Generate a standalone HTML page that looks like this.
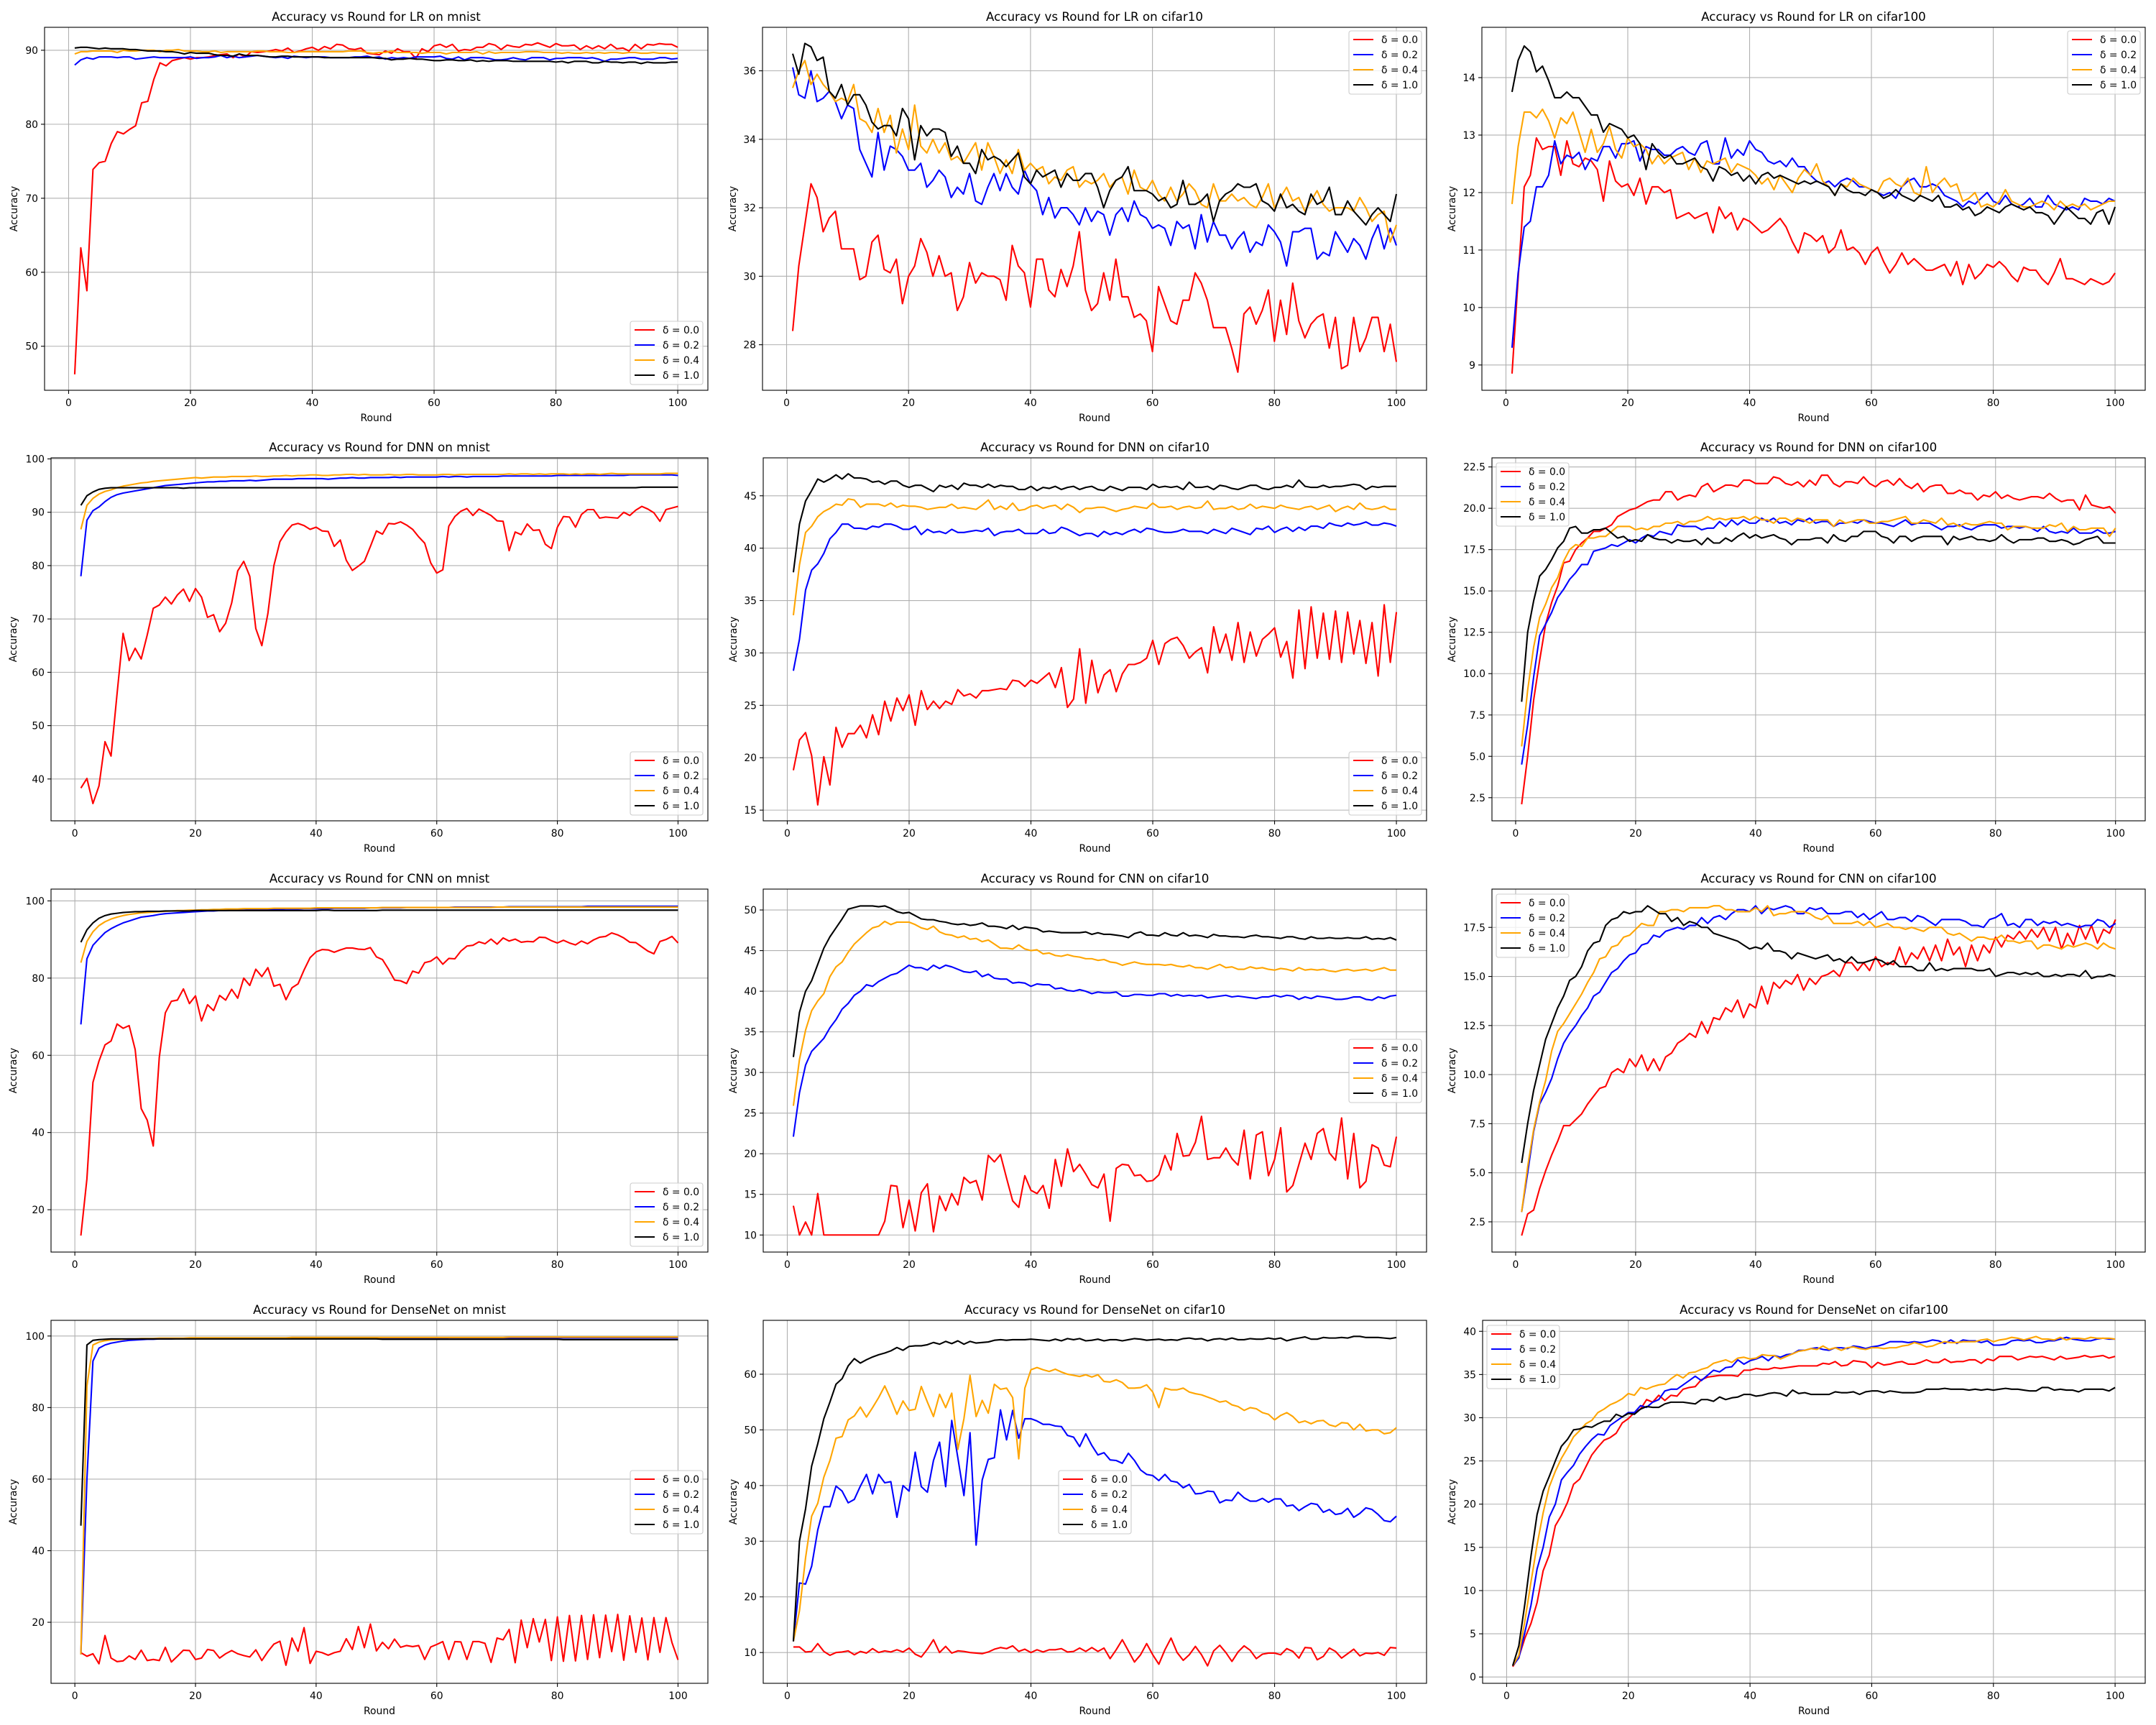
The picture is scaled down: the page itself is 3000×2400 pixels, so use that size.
<!DOCTYPE html>
<html><head><meta charset="utf-8">
<style>
html,body{margin:0;padding:0;background:#fff;}
svg{display:block;font-family:"DejaVu Sans","Liberation Sans",sans-serif;}
</style></head>
<body>
<svg id="fig" width="3000" height="2400" viewBox="0 0 3000 2400" xmlns="http://www.w3.org/2000/svg">
<rect width="3000" height="2400" fill="#fff"/>
</svg>
<script>
// ---------- data (accuracy per round, rounds 1..100) ----------
const xTicks=[0,20,40,60,80,100];
const seriesLabels=["δ = 0.0","δ = 0.2","δ = 0.4","δ = 1.0"];
const seriesColors=["#ff0000","#0000ff","#ffa500","#000000"];

const lrMnist00=[46.2,63.3,57.5,73.9,74.8,75.0,77.4,79.0,78.7,79.3,79.8,82.9,83.1,86.1,88.3,87.9,88.6,88.8,89.0,88.8,89.0,89.0,89.1,89.3,89.4,89.5,89.0,89.5,89.1,89.8,89.7,89.8,89.9,90.1,89.9,90.3,89.7,89.9,90.2,90.4,90.0,90.5,90.2,90.8,90.7,90.2,90.1,90.3,89.6,89.5,89.4,89.9,89.6,90.2,89.8,89.8,88.9,90.2,89.8,90.6,90.8,90.4,90.8,89.9,90.1,90.0,90.4,90.4,90.9,90.7,90.1,90.7,90.5,90.4,90.8,90.7,91.0,90.7,90.4,90.9,90.6,90.6,90.7,90.1,90.6,90.2,90.6,90.2,90.8,90.2,90.3,89.9,90.8,90.2,90.8,90.7,90.9,90.8,90.8,90.4];
const lrMnist02=[88.0,88.7,89.0,88.8,89.1,89.1,89.1,89.0,89.1,89.1,88.8,88.9,89.0,89.1,89.0,89.0,89.0,89.0,89.0,89.1,88.9,89.0,89.0,89.1,89.3,89.0,89.2,89.0,89.1,89.2,89.3,89.2,89.1,89.0,89.1,88.9,89.2,89.1,89.0,89.1,89.1,89.1,89.0,89.0,89.0,89.0,89.1,89.1,89.2,89.0,89.1,88.8,89.0,88.9,89.0,88.9,89.1,89.1,89.1,89.1,89.2,88.9,88.8,89.1,88.7,89.0,89.0,89.0,88.9,88.7,88.7,88.8,89.0,88.8,88.7,89.0,89.0,89.0,88.7,88.9,88.9,89.0,89.0,89.0,88.9,89.0,88.8,88.5,88.8,88.8,88.9,89.0,89.0,88.8,88.8,88.8,89.0,89.0,88.8,88.9];
const lrMnist04=[89.5,89.8,89.8,89.9,89.9,89.9,89.9,89.7,90.0,89.9,89.9,90.0,90.0,90.0,89.8,90.0,90.0,90.1,89.9,89.9,89.9,89.8,89.8,89.9,89.7,89.8,89.8,89.8,89.8,89.8,89.9,89.9,89.8,89.8,89.8,89.7,89.7,89.8,89.8,89.8,89.8,89.8,89.8,89.8,89.8,89.9,89.9,89.9,89.7,89.6,89.7,89.7,89.9,89.7,89.7,89.7,89.7,89.6,89.7,89.7,89.7,89.5,89.7,89.7,89.7,89.7,89.8,89.5,89.8,89.6,89.7,89.7,89.7,89.7,89.8,89.8,89.8,89.7,89.7,89.7,89.6,89.7,89.6,89.6,89.7,89.6,89.7,89.6,89.7,89.7,89.6,89.7,89.7,89.6,89.6,89.7,89.6,89.6,89.6,89.6];
const lrMnist10=[90.3,90.4,90.4,90.3,90.2,90.3,90.2,90.2,90.2,90.1,90.1,90.0,89.9,89.9,89.9,89.8,89.8,89.7,89.5,89.7,89.6,89.6,89.6,89.4,89.3,89.3,89.2,89.5,89.3,89.3,89.3,89.2,89.1,89.1,89.2,89.2,89.1,89.1,89.1,89.1,89.1,89.0,89.0,89.0,89.0,89.0,89.0,89.0,89.0,89.0,88.9,88.9,88.7,88.8,88.8,88.9,88.8,88.8,88.7,88.6,88.6,88.7,88.7,88.6,88.6,88.7,88.5,88.6,88.5,88.6,88.6,88.6,88.5,88.5,88.5,88.5,88.5,88.5,88.5,88.4,88.5,88.3,88.5,88.5,88.5,88.3,88.3,88.5,88.4,88.4,88.3,88.4,88.4,88.2,88.4,88.3,88.3,88.3,88.4,88.4];
const lrMnistYTicks=[50,60,70,80,90];

const lrCifar10_00=[28.4,30.3,31.5,32.7,32.3,31.3,31.7,31.9,30.8,30.8,30.8,29.9,30.0,31.0,31.2,30.2,30.1,30.5,29.2,30.0,30.3,31.1,30.7,30.0,30.6,30.0,30.1,29.0,29.4,30.4,29.8,30.1,30.0,30.0,29.9,29.3,30.9,30.3,30.1,29.1,30.5,30.5,29.6,29.4,30.2,29.7,30.3,31.3,29.6,29.0,29.2,30.1,29.3,30.5,29.4,29.4,28.8,28.9,28.7,27.8,29.7,29.2,28.7,28.6,29.3,29.3,30.1,29.8,29.3,28.5,28.5,28.5,27.9,27.2,28.9,29.1,28.6,29.0,29.6,28.1,29.3,28.3,29.8,28.7,28.2,28.6,28.8,28.9,27.9,28.8,27.3,27.4,28.8,27.8,28.2,28.8,28.8,27.8,28.6,27.5];
const lrCifar10_02=[36.1,35.3,35.2,36.0,35.1,35.2,35.4,35.1,34.6,35.0,34.9,33.7,33.3,32.9,34.2,33.1,33.8,33.7,33.5,33.1,33.1,33.3,32.6,32.8,33.1,32.9,32.3,32.6,32.4,33.0,32.2,32.1,32.6,33.0,32.5,33.0,32.6,32.4,33.1,32.7,32.5,31.8,32.3,31.7,32.0,32.0,31.8,31.5,32.0,31.6,31.9,31.8,31.2,31.8,32.0,31.6,32.2,31.8,31.7,31.4,31.5,31.4,30.9,31.6,31.4,31.5,30.8,31.8,31.0,31.6,31.2,31.2,30.8,31.1,31.3,30.7,31.0,30.9,31.5,31.3,31.0,30.3,31.3,31.3,31.4,31.4,30.5,30.7,30.6,31.3,31.0,30.7,31.1,30.9,30.5,31.1,31.5,30.8,31.4,30.9];
const lrCifar10_04=[35.5,36.0,36.3,35.6,35.9,35.6,35.4,35.1,35.2,35.1,35.6,34.6,34.5,34.2,34.9,34.2,34.7,33.6,34.3,33.7,35.0,33.8,33.6,34.0,33.6,33.9,33.4,33.5,33.3,33.6,33.9,33.1,33.9,33.5,33.0,33.4,33.0,33.7,33.1,33.3,33.1,33.2,32.7,32.9,32.8,33.1,33.2,32.6,32.8,32.7,32.8,33.0,32.6,32.8,32.9,32.4,33.1,32.6,32.5,32.8,32.4,32.2,32.6,32.2,32.4,32.7,32.5,32.1,32.0,32.7,32.2,32.2,32.4,32.2,32.3,32.1,32.0,32.3,32.7,32.0,32.3,32.6,32.2,32.3,31.9,32.2,32.5,32.1,31.9,32.0,32.0,32.0,31.9,32.3,32.0,31.6,31.8,31.9,31.0,31.5];
const lrCifar10_10=[36.5,35.9,36.8,36.7,36.3,36.4,35.4,35.2,35.6,35.0,35.3,35.3,35.0,34.5,34.3,34.4,34.4,34.1,34.9,34.6,33.4,34.4,34.1,34.3,34.3,34.2,33.5,33.8,33.3,33.3,33.0,33.7,33.4,33.5,33.4,33.2,33.4,33.6,32.9,32.7,33.1,32.9,33.0,33.1,32.6,33.0,32.8,32.8,33.0,33.0,32.6,32.0,32.5,32.8,32.9,33.2,32.5,32.5,32.5,32.4,32.2,32.3,32.0,32.1,32.8,32.1,32.1,32.2,32.4,31.6,32.2,32.4,32.5,32.7,32.6,32.6,32.7,32.2,32.1,31.9,32.4,32.0,32.1,31.9,31.8,32.4,32.1,32.2,32.6,31.8,31.8,32.2,31.9,31.7,31.5,31.8,32.0,31.8,31.6,32.4];
const lrCifar10YTicks=[28,30,32,34,36];

const lrCifar100_00=[8.85,10.5,12.1,12.3,12.95,12.75,12.8,12.8,12.3,12.9,12.5,12.45,12.6,12.55,12.4,11.85,12.55,12.2,12.1,12.15,11.95,12.25,11.8,12.1,12.1,12.0,12.05,11.55,11.6,11.65,11.55,11.6,11.65,11.3,11.75,11.55,11.65,11.35,11.55,11.5,11.4,11.3,11.35,11.45,11.55,11.4,11.15,10.95,11.3,11.25,11.15,11.25,10.95,11.05,11.35,11.0,11.05,10.95,10.75,10.95,11.05,10.8,10.6,10.75,10.95,10.75,10.85,10.75,10.65,10.65,10.7,10.75,10.55,10.8,10.4,10.75,10.5,10.6,10.75,10.7,10.8,10.7,10.55,10.45,10.7,10.65,10.65,10.5,10.4,10.6,10.85,10.5,10.5,10.45,10.4,10.5,10.45,10.4,10.45,10.6];
const lrCifar100_02=[9.3,10.6,11.4,11.5,12.1,12.1,12.3,12.9,12.5,12.65,12.6,12.7,12.4,12.6,12.55,12.8,12.8,12.6,12.85,12.85,12.9,12.55,12.8,12.75,12.75,12.65,12.65,12.75,12.8,12.7,12.65,12.85,12.9,12.5,12.5,12.95,12.6,12.75,12.65,12.9,12.75,12.7,12.55,12.5,12.55,12.45,12.6,12.45,12.45,12.3,12.2,12.15,12.2,12.1,12.2,12.25,12.2,12.1,12.1,12.05,12.0,11.95,12.0,11.9,12.1,12.2,12.25,12.1,12.1,12.15,12.1,11.95,11.9,11.85,11.75,11.85,11.8,11.9,12.0,11.85,11.8,11.95,11.8,11.75,11.8,11.9,11.75,11.75,11.95,11.8,11.75,11.7,11.75,11.7,11.9,11.85,11.85,11.8,11.9,11.85];
const lrCifar100_04=[11.8,12.8,13.4,13.4,13.3,13.45,13.25,12.95,13.3,13.2,13.4,13.05,12.7,13.1,12.7,12.85,13.15,12.75,12.6,12.95,12.8,12.85,12.75,12.5,12.65,12.5,12.6,12.65,12.7,12.4,12.6,12.35,12.55,12.5,12.55,12.6,12.35,12.5,12.45,12.4,12.3,12.15,12.25,12.05,12.3,12.15,12.0,12.25,12.4,12.3,12.5,12.2,12.1,11.95,12.15,12.1,12.25,12.15,12.1,12.05,12.0,12.2,12.25,12.15,12.1,12.25,12.0,11.95,12.45,12.0,12.15,12.25,12.1,12.15,11.85,11.9,12.0,11.75,11.8,11.75,11.85,12.05,11.85,11.8,11.75,11.75,11.8,11.85,11.8,11.7,11.85,11.75,11.8,11.75,11.8,11.7,11.75,11.8,11.85,11.85];
const lrCifar100_10=[13.75,14.3,14.55,14.45,14.1,14.2,13.95,13.65,13.65,13.75,13.65,13.65,13.5,13.35,13.35,13.05,13.2,13.15,13.1,12.95,13.0,12.85,12.4,12.85,12.7,12.6,12.65,12.5,12.5,12.55,12.6,12.45,12.4,12.2,12.45,12.4,12.3,12.35,12.2,12.3,12.15,12.3,12.35,12.25,12.3,12.25,12.2,12.15,12.2,12.15,12.2,12.15,12.1,11.95,12.15,12.05,12.0,12.0,11.95,12.05,12.0,11.9,11.95,12.05,11.95,11.9,11.85,11.95,11.9,11.85,11.95,11.75,11.75,11.8,11.7,11.75,11.6,11.65,11.75,11.7,11.65,11.75,11.8,11.75,11.7,11.75,11.65,11.65,11.6,11.45,11.6,11.75,11.65,11.55,11.55,11.45,11.65,11.7,11.45,11.75];
const lrCifar100YTicks=[9,10,11,12,13,14];

const dnnMnist00=[38.3,40.1,35.4,38.7,47.0,44.3,56.0,67.3,62.2,64.5,62.5,67.0,72.0,72.6,74.1,72.8,74.5,75.6,73.3,75.7,74.1,70.3,70.8,67.6,69.2,73.0,79.0,80.8,78.0,68.2,65.0,71.0,80.0,84.5,86.3,87.6,87.9,87.5,86.8,87.2,86.5,86.4,83.6,84.8,81.0,79.1,79.9,80.8,83.6,86.5,85.9,87.9,87.8,88.2,87.6,86.8,85.4,84.2,80.5,78.6,79.2,87.4,89.2,90.2,90.7,89.4,90.6,90.0,89.4,88.4,88.3,82.8,86.3,85.8,87.8,86.6,86.7,84.0,83.2,87.2,89.2,89.1,87.2,89.6,90.5,90.5,88.9,89.1,89.0,88.9,90.0,89.4,90.4,91.1,90.6,89.9,88.3,90.5,90.8,91.1];
const dnnMnist02=[78.0,88.5,90.3,91.0,92.0,92.8,93.3,93.6,93.8,94.0,94.2,94.4,94.6,94.8,95.0,95.1,95.2,95.3,95.4,95.5,95.6,95.7,95.7,95.8,95.8,95.9,95.9,95.9,96.0,95.9,96.0,96.1,96.2,96.2,96.2,96.2,96.3,96.3,96.3,96.3,96.3,96.2,96.3,96.4,96.4,96.5,96.4,96.4,96.5,96.5,96.5,96.5,96.6,96.5,96.6,96.6,96.6,96.6,96.6,96.6,96.7,96.6,96.7,96.7,96.6,96.7,96.7,96.7,96.7,96.7,96.8,96.8,96.8,96.8,96.8,96.8,96.8,96.8,96.8,96.9,96.9,96.9,96.9,96.9,96.9,96.9,96.9,96.9,96.9,96.9,96.9,97.0,97.0,97.0,97.0,97.0,97.0,97.0,97.0,96.9];
const dnnMnist04=[86.8,91.3,92.6,93.4,93.9,94.2,94.6,94.9,95.1,95.3,95.5,95.6,95.8,95.9,96.0,96.1,96.2,96.3,96.4,96.5,96.4,96.5,96.6,96.6,96.6,96.7,96.7,96.7,96.7,96.8,96.7,96.7,96.8,96.8,96.9,96.8,96.9,96.9,97.0,97.0,96.9,96.9,97.0,97.0,97.1,97.1,97.0,97.1,97.0,97.0,97.0,97.1,97.0,97.0,97.1,97.1,97.0,97.0,97.0,97.0,97.1,97.1,97.0,97.1,97.1,97.1,97.1,97.1,97.1,97.1,97.1,97.2,97.1,97.2,97.2,97.1,97.2,97.1,97.2,97.2,97.2,97.1,97.2,97.1,97.2,97.2,97.1,97.2,97.3,97.2,97.2,97.2,97.2,97.2,97.2,97.2,97.2,97.3,97.3,97.3];
const dnnMnist10=[91.3,93.1,93.8,94.3,94.5,94.6,94.6,94.6,94.6,94.6,94.6,94.6,94.6,94.6,94.6,94.6,94.6,94.5,94.6,94.6,94.6,94.6,94.6,94.6,94.6,94.6,94.6,94.6,94.6,94.6,94.6,94.6,94.6,94.6,94.6,94.6,94.6,94.6,94.6,94.6,94.6,94.6,94.6,94.6,94.6,94.6,94.6,94.6,94.6,94.6,94.6,94.6,94.6,94.6,94.6,94.6,94.6,94.6,94.6,94.6,94.6,94.6,94.6,94.6,94.6,94.6,94.6,94.6,94.6,94.6,94.6,94.6,94.6,94.6,94.6,94.6,94.6,94.6,94.6,94.6,94.6,94.6,94.6,94.6,94.6,94.6,94.6,94.6,94.6,94.6,94.6,94.6,94.6,94.7,94.7,94.7,94.7,94.7,94.7,94.7];
const dnnMnistYTicks=[40,50,60,70,80,90,100];

const dnnCifar10_00=[18.8,21.7,22.4,20.2,15.5,20.1,17.4,22.9,21.0,22.3,22.3,23.1,21.9,24.1,22.2,25.4,23.5,25.7,24.5,26.0,23.1,26.4,24.6,25.4,24.7,25.4,25.1,26.5,25.9,26.1,25.7,26.4,26.4,26.5,26.6,26.5,27.4,27.3,26.8,27.4,27.1,27.6,28.1,26.7,28.6,24.8,25.6,30.4,25.2,29.3,26.2,27.9,28.4,26.3,28.0,28.9,28.9,29.1,29.5,31.2,28.9,30.9,31.3,31.5,30.7,29.5,30.1,30.5,28.1,32.5,30.0,31.8,29.3,32.9,29.1,32.0,29.7,31.3,31.8,32.4,29.6,31.1,27.6,34.1,28.5,34.4,29.5,33.8,29.4,34.0,29.1,33.9,29.9,33.1,29.0,32.9,27.8,34.6,29.1,33.9];
const dnnCifar10_02=[28.3,31.3,36.0,37.9,38.5,39.5,40.9,41.5,42.3,42.3,41.9,41.9,41.8,42.1,42.0,42.3,42.3,42.1,41.8,41.8,42.1,41.3,41.8,41.5,41.6,41.4,41.8,41.5,41.5,41.6,41.7,41.6,41.9,41.2,41.5,41.6,41.6,41.8,41.4,41.4,41.4,41.8,41.4,41.5,42.0,41.8,41.5,41.2,41.4,41.4,41.1,41.6,41.3,41.5,41.3,41.6,41.8,41.5,41.9,41.8,41.6,41.5,41.5,41.6,41.8,41.6,41.6,41.6,41.4,41.8,41.6,41.4,41.9,41.7,41.5,41.3,41.9,41.8,42.1,41.5,41.8,42.0,41.6,42.0,41.7,42.1,42.1,41.9,42.4,42.2,42.1,42.4,42.2,42.3,42.5,42.2,42.2,42.4,42.3,42.1];
const dnnCifar10_04=[33.6,38.4,41.5,42.1,43.0,43.5,43.8,44.2,44.1,44.7,44.6,43.9,44.2,44.2,44.2,44.0,44.3,43.9,44.1,44.0,44.0,43.9,43.7,43.8,43.9,43.9,44.2,43.8,43.9,43.8,43.7,44.1,44.6,43.7,44.0,43.7,44.3,43.6,43.7,44.0,44.1,43.8,44.0,44.1,43.7,44.2,43.9,43.4,43.8,43.8,43.9,43.9,43.7,43.5,43.7,43.8,44.0,43.9,43.8,44.3,43.9,43.9,44.0,43.7,43.9,44.0,43.8,43.9,44.5,43.7,43.8,43.8,44.0,43.7,43.8,44.2,43.8,44.0,43.9,43.8,44.1,43.9,43.8,43.7,43.9,44.0,43.7,43.9,44.1,43.5,43.8,44.0,43.7,44.3,43.8,43.7,43.8,44.0,43.7,43.7];
const dnnCifar10_10=[37.7,42.3,44.5,45.5,46.6,46.3,46.6,47.0,46.6,47.1,46.7,46.7,46.6,46.3,46.4,46.1,46.4,46.4,46.0,45.8,46.0,46.0,45.7,45.4,46.0,45.8,46.0,45.6,46.2,46.0,46.0,45.8,46.1,45.8,46.0,45.9,45.9,45.6,45.6,45.9,45.5,45.8,45.7,45.9,45.6,45.8,45.9,45.6,45.8,45.9,45.6,45.5,45.9,45.7,45.5,45.8,45.8,45.8,45.6,46.1,45.8,45.9,45.8,45.9,45.6,46.3,45.8,45.8,45.9,45.6,46.0,45.9,45.7,45.6,45.8,46.0,46.0,45.7,45.6,45.8,45.8,46.0,45.8,46.5,45.9,45.8,45.8,46.0,45.8,45.9,45.9,46.0,46.1,46.0,45.6,45.9,45.8,45.9,45.9,45.9];
const dnnCifar10YTicks=[15,20,25,30,35,40,45];

const dnnCifar100_00=[2.1,5.0,8.4,10.8,13.0,14.3,15.3,16.7,16.8,17.5,17.9,18.2,18.6,18.6,18.8,19.0,19.5,19.7,19.9,20.0,20.2,20.4,20.5,20.5,21.0,21.0,20.5,20.7,20.8,20.7,21.3,21.5,21.0,21.2,21.4,21.4,21.3,21.7,21.7,21.5,21.5,21.5,21.9,21.8,21.5,21.4,21.6,21.3,21.7,21.4,22.0,22.0,21.5,21.3,21.6,21.6,21.5,21.9,21.5,21.3,21.6,21.7,21.4,21.8,21.4,21.2,21.5,21.0,21.3,21.4,21.4,20.9,20.9,21.1,20.9,20.9,20.5,20.8,20.7,21.0,20.6,20.8,20.6,20.5,20.6,20.7,20.7,20.6,20.9,20.6,20.4,20.5,20.5,19.9,20.8,20.2,20.1,20.0,20.1,19.7];
const dnnCifar100_02=[4.5,6.9,9.8,12.3,13.0,13.7,14.6,15.1,15.7,16.1,16.6,16.6,17.4,17.5,17.6,17.8,17.7,17.9,18.1,17.9,18.2,18.4,18.3,18.6,18.5,18.4,19.0,18.9,18.9,18.9,18.7,18.8,18.8,19.2,18.9,19.3,19.0,19.3,19.1,19.1,19.4,19.2,19.4,19.1,19.2,19.0,19.3,19.2,19.4,19.1,19.2,19.2,18.9,19.1,19.1,19.2,19.1,19.3,19.2,19.1,19.1,19.0,18.9,19.1,19.3,19.0,19.1,19.1,19.1,18.9,18.7,18.9,18.9,19.0,18.8,18.7,18.9,19.0,19.0,19.0,18.8,18.9,18.9,18.8,18.9,18.8,18.6,18.9,18.6,18.5,18.6,18.5,18.8,18.5,18.5,18.5,18.7,18.5,18.5,18.6];
const dnnCifar100_04=[5.6,9.0,11.6,13.4,14.2,15.2,15.8,16.8,17.5,17.8,17.7,18.2,18.2,18.3,18.3,18.6,18.9,18.9,18.9,18.7,18.8,18.7,18.9,18.9,19.1,19.1,19.2,19.0,19.2,19.2,19.3,19.5,19.3,19.4,19.3,19.4,19.4,19.5,19.3,19.5,19.3,19.3,19.1,19.4,19.4,19.2,19.4,19.3,19.1,19.3,19.3,19.3,18.9,19.3,19.1,19.2,19.3,19.3,19.1,19.1,19.2,19.2,19.3,19.4,19.5,19.1,19.1,19.3,19.2,19.1,19.4,19.0,19.1,18.9,19.1,19.0,19.0,19.1,19.2,19.1,19.1,18.7,18.9,18.9,18.9,18.8,18.8,18.8,19.0,18.9,19.1,18.6,18.9,18.7,18.7,18.8,18.8,18.8,18.3,18.8];
const dnnCifar100_10=[8.3,12.5,14.4,15.9,16.3,16.9,17.6,18.0,18.8,18.9,18.5,18.5,18.7,18.7,18.8,18.5,18.2,18.3,18.0,18.1,18.0,18.4,18.2,18.1,18.1,17.9,18.1,18.0,18.0,18.1,17.8,18.2,17.9,17.9,18.2,18.0,18.3,18.5,18.2,18.4,18.2,18.3,18.4,18.2,18.1,17.8,18.1,18.1,18.1,18.2,18.2,17.9,18.4,18.1,18.0,18.3,18.3,18.6,18.6,18.6,18.3,18.2,17.9,18.3,18.3,18.0,18.2,18.3,18.3,18.3,18.3,17.8,18.3,18.1,18.2,18.3,18.1,18.1,18.0,18.1,18.4,18.1,17.9,18.1,18.1,18.1,18.2,18.2,18.0,18.0,18.1,18.0,17.8,17.9,18.1,18.2,18.3,17.9,17.9,17.9];
const dnnCifar100YTicks=[2.5,5.0,7.5,10.0,12.5,15.0,17.5,20.0,22.5];

const cnnMnist00=[13.3,28.0,53.0,58.5,62.7,63.7,68.1,67.0,67.7,61.5,46.2,43.2,36.5,59.5,71.0,74.0,74.3,77.2,73.4,75.4,68.9,73.1,71.6,75.5,74.3,77.1,74.8,80.0,78.1,82.3,80.4,82.7,77.9,78.4,74.4,77.5,78.5,82.1,85.3,86.8,87.4,87.3,86.7,87.3,87.8,87.8,87.5,87.4,87.9,85.5,84.8,82.3,79.5,79.3,78.6,81.8,81.3,84.0,84.4,85.5,83.6,85.1,85.0,87.0,88.3,88.5,89.4,88.9,90.1,88.8,90.4,89.6,90.1,89.3,89.5,89.4,90.6,90.5,89.7,89.1,89.8,89.1,88.6,89.6,88.9,89.9,90.6,90.8,91.7,91.2,90.4,89.3,89.2,88.1,87.0,86.3,89.5,90.0,90.8,89.1];
const cnnMnist02=[68.0,85.0,88.5,90.2,91.8,92.8,93.6,94.3,94.8,95.3,95.8,96.0,96.2,96.5,96.7,96.8,96.9,97.0,97.1,97.2,97.3,97.4,97.4,97.5,97.5,97.6,97.6,97.6,97.7,97.7,97.7,97.8,97.8,97.8,97.9,97.9,97.9,98.0,98.0,98.0,98.0,98.0,98.1,98.1,98.1,98.1,98.1,98.1,98.2,98.2,98.2,98.2,98.2,98.2,98.3,98.3,98.3,98.3,98.3,98.3,98.3,98.3,98.4,98.4,98.4,98.4,98.4,98.4,98.4,98.4,98.4,98.5,98.5,98.5,98.5,98.5,98.5,98.5,98.5,98.5,98.5,98.5,98.5,98.5,98.6,98.6,98.6,98.6,98.6,98.6,98.6,98.6,98.6,98.6,98.6,98.6,98.6,98.6,98.6,98.6];
const cnnMnist04=[84.0,89.5,92.0,93.6,94.6,95.3,95.8,96.2,96.5,96.7,96.9,97.0,97.1,97.2,97.3,97.4,97.5,97.5,97.6,97.6,97.7,97.7,97.8,97.8,97.9,97.9,97.9,98.0,98.0,98.0,98.0,98.0,98.1,98.1,98.1,98.1,98.1,98.1,98.1,98.2,98.2,98.2,98.2,98.2,98.2,98.2,98.2,98.2,98.2,98.2,98.3,98.3,98.3,98.3,98.3,98.3,98.3,98.3,98.3,98.3,98.3,98.3,98.3,98.3,98.3,98.3,98.3,98.3,98.3,98.4,98.4,98.4,98.4,98.4,98.4,98.4,98.4,98.4,98.4,98.4,98.4,98.4,98.4,98.4,98.4,98.4,98.4,98.4,98.4,98.4,98.4,98.4,98.4,98.4,98.4,98.4,98.4,98.4,98.4,98.4];
const cnnMnist10=[89.3,92.5,94.3,95.5,96.2,96.6,96.8,97.0,97.1,97.2,97.2,97.3,97.3,97.3,97.4,97.4,97.4,97.4,97.4,97.5,97.5,97.5,97.5,97.5,97.5,97.5,97.5,97.5,97.5,97.5,97.5,97.5,97.5,97.5,97.5,97.5,97.5,97.5,97.5,97.5,97.6,97.6,97.5,97.5,97.5,97.5,97.5,97.5,97.5,97.5,97.6,97.6,97.6,97.6,97.6,97.6,97.6,97.6,97.6,97.6,97.6,97.6,97.6,97.6,97.6,97.6,97.6,97.6,97.6,97.6,97.6,97.6,97.6,97.6,97.6,97.6,97.6,97.6,97.6,97.6,97.6,97.6,97.6,97.6,97.6,97.6,97.6,97.6,97.6,97.6,97.6,97.6,97.6,97.6,97.6,97.6,97.6,97.6,97.6,97.6];
const cnnMnistYTicks=[20,40,60,80,100];

const cnnCifar10_00=[13.6,10.0,11.6,10.0,15.1,10.0,10.0,10.0,10.0,10.0,10.0,10.0,10.0,10.0,10.0,11.7,16.1,16.0,10.9,14.3,10.5,15.2,16.3,10.4,14.8,13.0,15.1,13.7,17.1,16.4,16.7,14.3,19.8,19.0,19.9,17.0,14.2,13.4,17.3,15.5,15.1,16.1,13.3,19.3,16.0,20.6,17.8,18.7,17.5,16.2,15.8,17.5,11.7,18.2,18.7,18.6,17.3,17.4,16.6,16.7,17.4,19.8,18.0,22.5,19.7,19.8,21.4,24.6,19.3,19.5,19.5,20.7,19.4,18.6,22.9,16.9,22.3,22.7,17.3,19.3,23.2,15.3,16.1,18.7,21.3,19.3,22.5,23.1,20.1,19.2,24.4,16.9,22.5,15.8,16.6,21.1,20.7,18.6,18.4,22.1];
const cnnCifar10_02=[22.1,27.5,30.9,32.6,33.4,34.2,35.5,36.5,37.8,38.5,39.5,40.0,40.8,40.6,41.2,41.6,42.0,42.2,42.7,43.2,42.9,42.9,42.6,43.2,42.8,43.2,43.0,42.7,42.4,42.3,42.5,41.8,42.1,41.6,41.5,41.5,41.0,41.1,41.0,40.6,40.9,40.8,40.8,40.3,40.4,40.1,40.0,40.2,40.0,39.7,39.9,39.8,39.8,39.9,39.4,39.4,39.6,39.6,39.5,39.5,39.7,39.7,39.4,39.6,39.4,39.5,39.4,39.5,39.2,39.3,39.4,39.5,39.3,39.4,39.3,39.2,39.1,39.3,39.3,39.5,39.3,39.5,39.4,39.0,39.3,39.1,39.4,39.3,39.2,39.0,39.0,39.1,39.3,39.3,39.0,38.9,39.3,39.1,39.4,39.5];
const cnnCifar10_04=[25.9,31.6,35.2,37.6,38.8,39.7,41.8,43.0,43.6,44.8,45.8,46.5,47.2,47.8,48.0,48.6,48.2,48.5,48.5,48.5,48.2,47.8,47.6,48.0,47.3,47.0,46.9,46.6,46.8,46.4,46.5,46.1,46.3,45.8,45.3,45.3,45.2,45.7,45.2,45.0,45.1,44.6,44.7,44.4,44.3,44.5,44.3,44.2,44.0,44.0,43.8,43.9,43.6,43.5,43.2,43.4,43.6,43.4,43.3,43.3,43.3,43.2,43.3,43.1,43.0,43.2,42.9,42.9,42.7,43.0,43.3,42.9,43.0,42.7,42.7,43.0,42.8,42.9,42.7,42.6,42.8,42.7,42.5,42.9,42.6,42.7,42.6,42.7,42.5,42.4,42.6,42.7,42.5,42.6,42.7,42.5,42.7,42.9,42.6,42.6];
const cnnCifar10_10=[31.9,37.4,40.0,41.3,43.3,45.3,46.7,47.8,48.9,50.1,50.3,50.5,50.5,50.5,50.4,50.5,50.2,49.8,49.6,49.7,49.3,48.9,48.8,48.8,48.6,48.5,48.3,48.2,48.3,48.1,48.2,48.4,48.0,48.0,47.9,47.7,48.1,47.6,47.9,47.8,47.7,47.3,47.4,47.3,47.2,47.2,47.2,47.2,47.3,47.0,47.2,47.0,47.0,46.9,46.8,46.6,47.1,47.3,46.9,46.9,46.8,47.2,46.9,46.8,47.2,46.8,46.9,46.8,46.6,47.0,46.8,46.8,46.7,46.7,46.6,46.8,46.9,46.7,46.7,46.6,46.5,46.7,46.7,46.5,46.4,46.7,46.5,46.5,46.6,46.5,46.5,46.6,46.5,46.5,46.7,46.4,46.5,46.4,46.6,46.3];
const cnnCifar10YTicks=[10,15,20,25,30,35,40,45,50];

const cnnCifar100_00=[1.8,2.9,3.1,4.2,5.1,5.9,6.6,7.4,7.4,7.7,8.0,8.5,8.9,9.3,9.4,10.1,10.3,10.1,10.8,10.4,11.0,10.2,10.8,10.2,10.9,11.1,11.6,11.8,12.1,11.9,12.7,12.1,12.9,12.8,13.4,13.2,13.8,12.9,13.6,13.4,14.5,13.6,14.7,14.4,14.8,14.6,15.1,14.3,14.9,14.6,15.0,15.1,15.3,15.0,15.7,15.7,15.3,15.7,15.3,16.0,15.5,15.7,15.6,16.5,15.6,16.2,15.9,16.5,15.8,16.6,15.8,16.9,16.1,16.5,15.5,16.6,15.8,16.6,16.2,17.0,16.5,17.1,16.9,17.3,16.9,17.4,17.0,17.5,16.8,17.5,16.4,17.2,16.6,17.6,16.9,17.6,16.7,17.4,17.2,17.9];
const cnnCifar100_02=[3.0,5.0,7.1,8.5,9.1,9.8,10.8,11.6,12.1,12.5,13.0,13.4,14.0,14.2,14.7,15.2,15.4,15.8,16.1,16.2,16.6,16.7,17.1,17.0,17.3,17.4,17.5,17.4,17.6,17.6,18.0,17.7,18.0,18.1,17.9,18.2,18.4,18.4,18.3,18.6,18.2,18.5,18.4,18.5,18.6,18.5,18.2,18.2,18.5,18.4,18.5,18.2,18.2,18.2,18.3,18.3,18.0,18.2,17.9,18.1,18.3,17.9,17.9,18.0,18.0,17.8,18.1,18.0,17.8,17.6,17.9,17.9,17.9,17.9,17.8,17.6,17.6,17.5,17.9,18.0,18.2,17.6,17.7,17.5,17.9,17.9,17.6,17.8,17.7,17.8,17.6,17.7,17.6,17.5,17.6,17.6,17.9,17.8,17.5,17.7];
const cnnCifar100_04=[3.0,5.3,7.2,8.6,9.7,11.2,12.2,12.6,13.1,13.6,14.1,14.7,15.2,15.9,16.0,16.5,16.6,17.0,17.1,17.4,17.7,17.6,17.6,18.3,18.3,18.4,18.4,18.3,18.5,18.5,18.5,18.5,18.6,18.6,18.4,18.4,18.3,18.3,18.3,18.5,18.3,18.6,18.1,18.2,18.2,18.3,18.3,18.3,18.2,18.0,17.9,18.1,17.7,17.7,17.7,17.7,17.8,17.6,17.8,17.5,17.6,17.7,17.5,17.5,17.4,17.5,17.4,17.3,17.5,17.5,17.5,17.2,17.1,17.2,17.0,16.8,17.0,17.0,16.9,16.9,17.1,16.8,16.8,16.7,16.8,16.8,16.4,16.6,16.6,16.5,16.4,16.6,16.5,16.6,16.7,16.6,16.4,16.7,16.5,16.4];
const cnnCifar100_10=[5.5,7.5,9.2,10.5,11.8,12.6,13.4,14.0,14.8,15.0,15.5,16.3,16.7,16.8,17.6,17.9,18.0,18.3,18.2,18.3,18.3,18.6,18.4,18.2,18.2,17.8,18.0,17.6,17.8,17.7,17.5,17.5,17.2,17.1,17.0,16.9,16.8,16.6,16.4,16.5,16.4,16.7,16.3,16.3,16.2,15.9,16.2,16.1,16.0,15.9,16.0,16.1,15.8,15.9,15.7,16.0,15.7,15.7,15.8,15.9,15.8,15.6,15.8,15.5,15.5,15.5,15.3,15.3,15.7,15.3,15.4,15.3,15.4,15.4,15.4,15.4,15.3,15.3,15.4,15.0,15.1,15.2,15.2,15.1,15.2,15.1,15.2,15.0,15.0,15.1,15.0,15.1,15.1,15.0,15.3,14.9,15.0,15.0,15.1,15.0];
const cnnCifar100YTicks=[2.5,5.0,7.5,10.0,12.5,15.0,17.5];

const denseMnist00=[11.5,10.5,11.2,8.4,16.3,10.0,9.0,9.2,10.6,9.6,12.2,9.3,9.6,9.3,13.0,8.9,10.5,12.2,12.1,9.6,10.0,12.4,12.1,10.0,11.2,12.1,11.2,10.7,10.3,12.3,9.3,11.8,13.9,14.7,8.0,15.6,11.9,18.5,8.5,11.9,11.5,10.8,11.5,11.9,15.4,12.4,18.8,12.9,19.5,12.0,14.4,12.6,15.3,13.0,13.5,13.2,13.5,9.6,13.1,13.8,14.6,9.6,14.6,14.5,9.6,14.6,14.6,14.1,8.8,15.6,15.1,18.0,8.7,20.6,12.9,21.0,14.5,20.8,9.3,21.5,9.1,21.9,9.2,21.9,9.6,22.1,10.1,22.0,11.8,22.2,9.4,21.8,11.6,21.2,9.5,21.3,11.6,21.3,14.3,9.5];
const denseMnist02=[11.0,60.0,93.0,96.6,97.5,98.0,98.3,98.6,98.8,98.9,99.0,99.1,99.1,99.2,99.2,99.2,99.3,99.3,99.3,99.3,99.3,99.3,99.3,99.3,99.3,99.4,99.4,99.4,99.4,99.4,99.4,99.4,99.4,99.4,99.4,99.4,99.4,99.4,99.4,99.4,99.4,99.4,99.4,99.4,99.4,99.4,99.4,99.4,99.4,99.4,99.4,99.4,99.4,99.4,99.4,99.4,99.4,99.4,99.4,99.4,99.4,99.5,99.5,99.5,99.5,99.5,99.5,99.5,99.5,99.5,99.5,99.5,99.5,99.5,99.5,99.5,99.5,99.5,99.5,99.5,99.5,99.5,99.5,99.5,99.5,99.5,99.5,99.5,99.5,99.5,99.5,99.5,99.5,99.5,99.5,99.5,99.5,99.5,99.5,99.5];
const denseMnist04=[11.0,86.0,97.5,98.3,98.7,98.9,99.0,99.1,99.2,99.2,99.3,99.3,99.3,99.4,99.4,99.4,99.4,99.4,99.5,99.5,99.5,99.5,99.5,99.5,99.5,99.5,99.5,99.5,99.5,99.5,99.5,99.5,99.5,99.5,99.5,99.6,99.6,99.6,99.6,99.6,99.6,99.6,99.6,99.6,99.6,99.6,99.6,99.6,99.6,99.6,99.6,99.6,99.6,99.6,99.6,99.6,99.6,99.6,99.6,99.6,99.6,99.6,99.6,99.6,99.6,99.6,99.6,99.6,99.6,99.6,99.6,99.7,99.7,99.7,99.7,99.7,99.7,99.7,99.7,99.7,99.7,99.7,99.7,99.7,99.7,99.7,99.7,99.7,99.7,99.7,99.7,99.7,99.7,99.7,99.7,99.7,99.7,99.7,99.7,99.7];
const denseMnist10=[47.0,97.5,98.8,99.0,99.1,99.2,99.2,99.2,99.2,99.2,99.2,99.2,99.2,99.2,99.2,99.2,99.2,99.2,99.2,99.2,99.2,99.2,99.2,99.2,99.2,99.2,99.2,99.2,99.2,99.2,99.2,99.2,99.2,99.2,99.2,99.2,99.2,99.2,99.2,99.2,99.2,99.2,99.2,99.2,99.2,99.2,99.2,99.2,99.2,99.2,99.1,99.1,99.1,99.1,99.1,99.1,99.1,99.1,99.1,99.1,99.1,99.1,99.1,99.1,99.1,99.1,99.1,99.1,99.1,99.1,99.1,99.1,99.1,99.1,99.1,99.1,99.1,99.1,99.1,99.1,99.0,99.0,99.0,99.0,99.0,99.0,99.0,99.0,99.0,99.0,99.0,99.0,99.0,99.0,99.0,99.0,99.0,99.0,99.0,99.0];
const denseMnistYTicks=[20,40,60,80,100];

const denseCifar10_00=[11.0,11.0,10.1,10.2,11.6,10.2,9.5,10.0,10.1,10.3,9.6,10.2,9.9,10.7,10.0,10.3,10.1,10.5,10.1,10.8,9.7,9.2,10.6,12.3,10.0,11.1,9.9,10.3,10.2,10.0,9.9,9.8,10.1,10.6,10.9,10.7,11.2,10.2,10.6,10.0,10.5,10.1,10.5,10.5,10.7,10.1,10.2,10.8,10.2,10.9,10.2,10.8,8.9,10.5,12.3,10.3,8.3,9.6,11.6,9.6,7.9,10.5,12.6,10.0,8.6,9.6,11.1,9.6,7.6,10.3,11.3,10.0,8.4,10.1,11.2,10.4,8.9,9.7,9.9,9.9,9.6,10.7,10.2,9.0,10.9,10.8,8.7,9.3,10.8,10.2,9.0,9.8,10.6,9.4,9.9,9.8,10.0,9.5,10.9,10.8];
const denseCifar10_02=[12.0,22.5,22.3,25.5,32.0,36.2,36.2,39.9,39.0,36.9,37.5,39.9,42.0,38.5,42.0,40.5,40.7,34.3,40.0,39.0,46.0,39.8,38.8,44.5,47.8,39.8,51.7,45.0,38.2,49.5,29.3,41.0,44.7,45.0,53.6,48.2,53.5,48.5,52.0,52.0,51.6,51.0,51.0,50.7,50.6,49.0,48.7,47.0,49.3,47.2,45.5,45.9,44.6,44.5,44.0,45.8,44.5,42.8,42.0,41.8,40.9,42.0,40.8,40.6,39.6,40.2,38.5,38.6,39.0,38.9,36.9,37.4,37.3,38.8,37.8,37.2,37.2,37.7,37.0,37.6,37.6,36.3,36.5,35.5,36.2,36.8,36.6,35.2,35.7,34.8,35.0,35.9,34.3,35.0,36.0,35.7,34.8,33.7,33.5,34.5];
const denseCifar10_04=[12.0,17.5,27.0,34.5,36.8,41.5,44.5,48.5,48.8,51.8,52.5,54.1,52.3,54.0,55.8,57.9,55.5,52.8,55.2,53.5,53.7,57.8,55.0,52.4,56.4,54.0,56.6,46.5,52.0,59.8,52.4,55.3,53.0,58.2,57.3,57.5,55.8,44.8,57.5,60.8,61.2,60.8,60.5,60.9,60.4,60.0,59.8,59.6,59.9,59.5,59.9,58.7,58.6,59.0,58.5,57.5,57.5,57.6,58.1,56.8,54.0,57.5,57.2,57.2,57.5,56.8,56.5,56.3,55.9,55.5,55.0,55.2,54.5,54.2,53.5,54.0,53.8,53.1,52.8,51.8,52.6,53.1,52.4,51.3,51.6,51.1,51.6,51.7,50.9,50.6,51.3,51.2,50.0,51.0,49.8,50.0,50.0,49.3,49.5,50.4];
const denseCifar10_10=[12.0,30.0,35.8,43.5,47.5,52.0,55.0,58.2,59.2,61.5,62.8,62.0,62.6,63.1,63.5,63.8,64.2,64.8,64.3,65.0,65.1,65.1,65.3,65.7,65.4,65.9,65.5,66.0,65.4,65.9,65.6,65.7,65.8,66.1,66.2,66.1,66.2,66.2,66.2,66.3,66.2,66.1,66.0,66.3,66.0,66.4,66.2,66.4,66.0,66.1,66.3,66.0,66.2,66.2,66.0,66.2,66.4,66.3,66.1,66.2,66.3,66.1,66.2,66.1,66.4,66.5,66.3,66.4,66.0,66.3,66.4,66.2,66.5,66.2,66.2,66.4,66.3,66.3,66.5,66.3,66.5,66.0,66.3,66.5,66.7,66.3,66.3,66.6,66.5,66.5,66.6,66.5,66.8,66.8,66.6,66.6,66.6,66.5,66.4,66.6];
const denseCifar10YTicks=[10,20,30,40,50,60];

const denseCifar100_00=[1.2,2.3,4.5,6.2,8.6,12.3,14.1,17.5,18.7,20.2,22.3,22.9,24.3,25.7,26.6,27.4,27.7,28.2,29.4,29.9,30.6,31.0,32.1,31.8,32.6,32.0,32.6,32.5,33.3,33.5,33.6,34.4,34.7,34.8,34.9,34.9,34.9,34.8,35.5,35.5,35.7,35.6,35.6,35.8,35.7,35.8,35.9,36.0,36.0,36.0,36.0,36.3,36.2,36.5,36.0,36.1,36.6,36.5,36.4,35.8,36.4,36.1,36.2,36.4,36.5,36.2,36.2,36.4,36.7,36.4,36.4,36.8,36.4,36.5,36.5,36.7,36.7,36.3,36.8,36.6,37.1,37.1,37.1,36.7,36.9,37.1,37.0,37.1,36.9,36.7,37.1,36.8,36.9,37.0,37.2,37.0,37.1,37.2,36.9,37.1];
const denseCifar100_02=[1.3,2.2,5.2,8.3,12.5,15.0,18.5,20.0,22.8,23.7,24.5,25.8,26.7,27.5,28.1,28.0,29.1,29.6,30.1,30.6,30.6,31.4,31.2,31.8,32.1,33.1,33.3,33.3,33.8,34.3,34.8,34.3,34.9,35.5,35.3,35.8,35.9,36.7,36.2,36.6,36.8,37.1,36.6,37.2,37.0,37.3,37.4,37.8,37.8,38.0,38.1,37.9,37.8,38.1,38.1,38.0,38.3,38.2,38.0,38.2,38.3,38.5,38.8,38.8,38.8,38.7,38.8,38.7,38.8,39.0,38.9,38.6,39.0,38.6,39.0,38.9,38.9,38.7,38.9,38.4,38.4,38.5,38.9,39.0,38.9,39.0,38.7,38.7,38.9,38.9,39.1,39.3,39.1,39.0,38.9,38.9,39.1,39.2,39.1,39.1];
const denseCifar100_04=[1.3,2.5,6.5,11.0,15.3,19.0,22.0,23.8,25.3,26.5,27.8,28.5,29.3,29.7,30.6,31.0,31.5,31.8,32.2,32.8,32.6,33.5,33.3,33.6,33.8,33.9,34.5,35.0,34.6,35.2,35.3,35.6,35.8,36.3,36.5,36.7,36.4,36.9,37.0,36.8,36.9,37.3,37.2,37.2,36.8,37.1,37.4,37.7,37.8,38.0,37.9,38.3,37.9,38.1,37.8,38.1,38.2,38.0,37.9,38.1,38.1,38.0,38.1,38.1,38.3,38.4,38.7,38.5,38.2,38.3,38.6,38.8,38.7,38.7,38.8,38.8,38.8,39.0,39.1,38.8,39.0,39.1,39.3,39.2,39.0,39.2,39.4,39.1,39.1,39.0,39.3,39.0,39.2,39.2,39.1,39.3,39.2,39.2,39.2,39.1];
const denseCifar100_10=[1.3,3.6,8.5,14.0,18.8,21.5,23.2,25.0,26.7,27.5,28.6,28.7,29.0,28.9,29.3,29.6,29.6,30.4,30.1,30.5,30.4,31.0,31.3,31.2,31.2,31.6,31.8,31.8,31.8,31.7,31.6,32.1,32.1,31.9,32.4,32.1,32.3,32.4,32.7,32.7,32.5,32.6,32.8,32.9,32.8,32.5,33.2,32.8,32.9,32.7,32.7,32.7,32.7,33.0,32.9,32.9,33.0,32.7,33.0,33.1,33.1,32.9,33.1,33.0,32.9,32.9,32.9,33.0,33.3,33.3,33.3,33.4,33.3,33.3,33.3,33.2,33.3,33.2,33.3,33.2,33.3,33.4,33.3,33.3,33.2,33.1,33.1,33.5,33.5,33.2,33.3,33.2,33.2,33.0,33.3,33.3,33.3,33.3,33.1,33.5];
const denseCifar100YTicks=[0,5,10,15,20,25,30,35,40];

// ---------- layout ----------
const panels=[
 {name:"lr-mnist",title:"Accuracy vs Round for LR on mnist",left:62,top:38,ylim:[44.05,93.1],ticks:lrMnistYTicks,dec:0,series:[lrMnist00,lrMnist02,lrMnist04,lrMnist10],leg:[877,447],ylab:43},
 {name:"lr-cifar10",title:"Accuracy vs Round for LR on cifar10",left:1061,top:38,ylim:[26.67,37.27],ticks:lrCifar10YTicks,dec:0,series:[lrCifar10_00,lrCifar10_02,lrCifar10_04,lrCifar10_10],leg:[1877,43],ylab:42},
 {name:"lr-cifar100",title:"Accuracy vs Round for LR on cifar100",left:2062,top:38,ylim:[8.56,14.875],ticks:lrCifar100YTicks,dec:0,series:[lrCifar100_00,lrCifar100_02,lrCifar100_04,lrCifar100_10],leg:[2877,43],ylab:42},
 {name:"dnn-mnist",title:"Accuracy vs Round for DNN on mnist",left:71,top:637,ylim:[32.16,100.2],ticks:dnnMnistYTicks,dec:0,series:[dnnMnist00,dnnMnist02,dnnMnist04,dnnMnist10],leg:[877,1046],ylab:53},
 {name:"dnn-cifar10",title:"Accuracy vs Round for DNN on cifar10",left:1062,top:637,ylim:[13.98,48.62],ticks:dnnCifar10YTicks,dec:0,series:[dnnCifar10_00,dnnCifar10_02,dnnCifar10_04,dnnCifar10_10],leg:[1877,1046],ylab:42},
 {name:"dnn-cifar100",title:"Accuracy vs Round for DNN on cifar100",left:2076,top:637,ylim:[1.1,23.05],ticks:dnnCifar100YTicks,dec:1,series:[dnnCifar100_00,dnnCifar100_02,dnnCifar100_04,dnnCifar100_10],leg:[2082,644],ylab:56},
 {name:"cnn-mnist",title:"Accuracy vs Round for CNN on mnist",left:71,top:1237,ylim:[9.03,103.06],ticks:cnnMnistYTicks,dec:0,series:[cnnMnist00,cnnMnist02,cnnMnist04,cnnMnist10],leg:[877,1646],ylab:53},
 {name:"cnn-cifar10",title:"Accuracy vs Round for CNN on cifar10",left:1062,top:1237,ylim:[7.9,52.57],ticks:cnnCifar10YTicks,dec:0,series:[cnnCifar10_00,cnnCifar10_02,cnnCifar10_04,cnnCifar10_10],leg:[1877,1446],ylab:42},
 {name:"cnn-cifar100",title:"Accuracy vs Round for CNN on cifar100",left:2076,top:1237,ylim:[0.96,19.45],ticks:cnnCifar100YTicks,dec:1,series:[cnnCifar100_00,cnnCifar100_02,cnnCifar100_04,cnnCifar100_10],leg:[2082,1244],ylab:56},
 {name:"densenet-mnist",title:"Accuracy vs Round for DenseNet on mnist",left:71,top:1837,ylim:[2.94,104.38],ticks:denseMnistYTicks,dec:0,series:[denseMnist00,denseMnist02,denseMnist04,denseMnist10],leg:[877,2046],ylab:53},
 {name:"densenet-cifar10",title:"Accuracy vs Round for DenseNet on cifar10",left:1062,top:1837,ylim:[4.47,69.68],ticks:denseCifar10YTicks,dec:0,series:[denseCifar10_00,denseCifar10_02,denseCifar10_04,denseCifar10_10],leg:[1473,2046],ylab:42},
 {name:"densenet-cifar100",title:"Accuracy vs Round for DenseNet on cifar100",left:2063,top:1837,ylim:[-0.73,41.27],ticks:denseCifar100YTicks,dec:0,series:[denseCifar100_00,denseCifar100_02,denseCifar100_04,denseCifar100_10],leg:[2069,1844],ylab:43}
];
const colRight=[985,1985,2985];
const AX_H=505;
const XMIN=-3.95, XMAX=104.95;

const NS="http://www.w3.org/2000/svg";
const fig=document.getElementById('fig');
function mk(tag,attrs,parent){const e=document.createElementNS(NS,tag);for(const k in attrs)e.setAttribute(k,attrs[k]);(parent||fig).appendChild(e);return e;}

panels.forEach((p,pi)=>{
  const L=p.left, T=p.top, R=colRight[pi%3], B=T+AX_H;
  const xs=v=>L+(v-XMIN)/(XMAX-XMIN)*(R-L);
  const ys=v=>B-(v-p.ylim[0])/(p.ylim[1]-p.ylim[0])*(B-T);
  const g=mk('g',{});
  
  
  const cp=mk('clipPath',{id:'clip'+pi},g);
  mk('rect',{x:L,y:T,width:R-L,height:B-T},cp);
  // grid
  xTicks.forEach(t=>{const x=xs(t);
    const gl=mk('line',{x1:x,x2:x,y1:T,y2:B,stroke:'#b0b0b0','stroke-width':1.1},g);
    
    
  });
  p.ticks.forEach(t=>{const y=ys(t);
    const gl=mk('line',{x1:L,x2:R,y1:y,y2:y,stroke:'#b0b0b0','stroke-width':1.1},g);
    
    
  });
  // series
  p.series.forEach((arr,si)=>{
    const pts=arr.slice(0,100).map((v,i)=>xs(i+1).toFixed(2)+','+ys(v).toFixed(2)).join(' ');
    const pl=mk('polyline',{points:pts,fill:'none',stroke:seriesColors[si],'stroke-width':2.1,'stroke-linejoin':'round','clip-path':'url(#clip'+pi+')'},g);
    
    
  });
  // frame
  const fr=mk('rect',{x:L,y:T,width:R-L,height:B-T,fill:'none',stroke:'#000','stroke-width':1.1},g);
  
  
  // x ticks
  xTicks.forEach(t=>{const x=xs(t);
    mk('line',{x1:x,x2:x,y1:B,y2:B+5,stroke:'#000','stroke-width':1.1},g);
    const tx=mk('text',{x:x,y:B+22,'font-size':13.9,'text-anchor':'middle',fill:'#000'},g);
    tx.textContent=String(t);
    
    
  });
  p.ticks.forEach(t=>{const y=ys(t);
    mk('line',{x1:L-5,x2:L,y1:y,y2:y,stroke:'#000','stroke-width':1.1},g);
    const tx=mk('text',{x:L-9,y:y+5,'font-size':13.9,'text-anchor':'end',fill:'#000'},g);
    tx.textContent=t.toFixed(p.dec);
    
    
  });
  // title & labels
  const ti=mk('text',{x:(L+R)/2,y:T-9,'font-size':16.7,'text-anchor':'middle',fill:'#000'},g);
  ti.textContent=p.title;
  
  
  const xl=mk('text',{x:(L+R)/2,y:B+43,'font-size':13.9,'text-anchor':'middle',fill:'#000'},g);
  xl.textContent='Round';
  
  
  const yx=L-p.ylab+5, yy=(T+B)/2;
  const yl=mk('text',{x:yx,y:yy,'font-size':13.9,'text-anchor':'middle',fill:'#000',transform:'rotate(-90 '+yx+' '+yy+')'},g);
  yl.textContent='Accuracy';
  
  
  // legend
  const lx=p.leg[0], ly=p.leg[1];
  const lg=mk('g',{},g);
  
  
  mk('rect',{x:lx,y:ly,width:101,height:88,rx:3,fill:'#fff','fill-opacity':0.8,stroke:'#cccccc','stroke-width':1.1},lg);
  seriesLabels.forEach((lab,si)=>{
    const cy=ly+12+si*21;
    const ln=mk('line',{x1:lx+6,x2:lx+34,y1:cy,y2:cy,stroke:seriesColors[si],'stroke-width':2.1},lg);
    
    
    const lt=mk('text',{x:lx+45,y:cy+5,'font-size':13.9,fill:'#000'},lg);
    lt.textContent=lab;
    
    
  });
});
</script>
</body></html>
